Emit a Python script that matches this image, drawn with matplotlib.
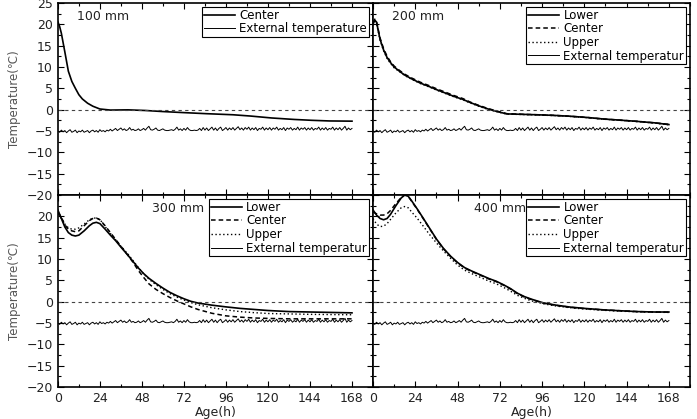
import matplotlib
matplotlib.use('Agg')
import matplotlib.pyplot as plt
from matplotlib.ticker import MultipleLocator
import numpy as np

# external air temperature, one value per hour (0..168 h), same in every panel
ext_temp = [-5.0, -5.3, -4.8, -5.2, -4.9, -5.4, -5.0, -4.7, -5.3, -5.1, -4.8, -5.4, -5.0, -5.2, -4.8,
            -5.3, -5.1, -4.9, -5.4, -5.0, -4.8, -5.2, -4.9, -5.3, -4.7, -5.1, -4.9, -5.2, -4.8, -5.0,
            -4.6, -5.0, -4.7, -4.4, -4.9, -4.6, -4.3, -4.8, -4.5, -4.9, -4.7, -4.2, -4.8, -4.6, -4.9,
            -4.8, -4.5, -4.9, -4.7, -4.4, -4.8, -4.3, -3.9, -4.7, -4.8, -4.6, -4.3, -4.8, -4.9, -4.7,
            -4.5, -4.8, -4.9, -4.9, -4.8, -4.7, -4.9, -4.6, -4.1, -4.8, -4.5, -4.9, -4.4, -4.8, -4.2,
            -4.7, -4.9, -4.9, -4.8, -4.9, -4.8, -4.4, -4.9, -4.2, -4.8, -4.3, -4.9, -4.5, -4.1, -4.8,
            -4.3, -4.9, -4.4, -4.1, -4.9, -4.6, -4.2, -4.8, -4.3, -4.7, -4.2, -4.8, -4.4, -4.0, -4.7,
            -4.3, -4.8, -4.2, -4.6, -4.1, -4.8, -4.3, -4.7, -4.2, -4.9, -4.4, -4.6, -4.1, -4.8, -4.3,
            -4.7, -4.2, -4.8, -4.3, -4.6, -4.1, -4.8, -4.4, -4.7, -4.2, -4.9, -4.3, -4.6, -4.2, -4.8,
            -4.4, -4.7, -4.1, -4.8, -4.3, -4.6, -4.2, -4.8, -4.3, -4.7, -4.2, -4.8, -4.4, -4.6, -4.1,
            -4.8, -4.3, -4.7, -4.2, -4.8, -4.4, -4.6, -4.1, -4.8, -4.3, -4.7, -4.2, -4.8, -4.4, -3.9,
            -4.8, -4.3, -4.7, -4.4]
ext_hours = list(range(len(ext_temp)))

# 100 mm
t100 = [0, 1, 2, 4, 6, 8, 10, 12, 14, 17, 20, 24, 30, 40, 50, 60, 72, 85, 100, 110, 122, 135, 145, 155, 168]
center100 = [20.6, 19.5, 17.9, 13.5, 9.0, 6.6, 5.0, 3.5, 2.5, 1.5, 0.8, 0.15, -0.1, -0.05, -0.2, -0.45,
             -0.7, -0.95, -1.2, -1.5, -1.95, -2.3, -2.5, -2.65, -2.7]

# 200 mm
t200 = [0, 1, 2, 4, 6, 8, 10, 12, 15, 18, 22, 27, 32, 36, 41, 46, 51, 55, 60, 65, 70, 76, 85, 93,
        103, 112, 122, 131, 140, 150, 160, 168]
lower200 = [20.0, 21.0, 20.5, 16.5, 14.0, 12.2, 11.0, 10.0, 9.0, 8.1, 7.2, 6.2, 5.4, 4.7, 3.9, 3.1,
            2.4, 1.7, 0.9, 0.2, -0.4, -1.0, -1.1, -1.2, -1.35, -1.55, -1.85, -2.2, -2.45, -2.75, -3.1, -3.5]
center200 = [20.3, 21.2, 20.6, 16.8, 14.3, 12.5, 11.2, 10.2, 9.2, 8.3, 7.4, 6.4, 5.6, 4.9, 4.1, 3.3,
             2.6, 1.8, 1.0, 0.3, -0.3, -0.95, -1.1, -1.2, -1.35, -1.55, -1.85, -2.2, -2.45, -2.75, -3.1, -3.45]
upper200 = [19.8, 20.7, 20.2, 16.3, 13.8, 12.0, 10.8, 9.8, 8.9, 8.0, 7.1, 6.1, 5.3, 4.6, 3.8, 3.0,
            2.3, 1.6, 0.8, 0.1, -0.45, -1.05, -1.15, -1.25, -1.4, -1.6, -1.9, -2.25, -2.5, -2.8, -3.15, -3.55]

# 300 mm
t300 = [0, 2, 4, 6, 8, 10, 12, 15, 18, 20, 22, 24, 27, 30, 33, 36, 40, 43, 46, 49, 52, 56, 60, 64, 68,
        72, 76, 80, 88, 96, 104, 112, 120, 132, 144, 156, 168]
lower300 = [21.5, 19.5, 17.5, 16.2, 15.6, 15.4, 15.6, 16.6, 17.8, 18.4, 18.6, 18.3, 17.0, 15.6, 14.3,
            12.8, 10.9, 9.4, 7.9, 6.6, 5.5, 4.3, 3.2, 2.2, 1.4, 0.7, 0.1, -0.3, -0.8, -1.2, -1.55,
            -1.8, -2.05, -2.3, -2.4, -2.5, -2.6]
center300 = [21.0, 19.8, 18.0, 17.0, 16.6, 16.4, 16.6, 17.8, 19.0, 19.5, 19.6, 19.2, 17.8, 16.2, 14.6,
             13.0, 10.9, 9.2, 7.3, 5.7, 4.2, 2.9, 1.9, 1.0, 0.2, -0.5, -1.2, -1.8, -2.7, -3.3, -3.6,
             -3.8, -3.9, -4.0, -4.0, -4.0, -4.0]
upper300 = [20.5, 19.5, 18.2, 17.3, 17.0, 17.0, 17.3, 18.2, 19.2, 19.6, 19.6, 19.3, 17.6, 16.0, 14.5,
            13.0, 11.2, 9.6, 8.0, 6.5, 5.3, 4.0, 2.9, 1.9, 1.1, 0.4, -0.2, -0.7, -1.4, -1.9, -2.3,
            -2.55, -2.75, -2.85, -2.95, -3.0, -3.05]

# 400 mm
t400 = [0, 2, 4, 6, 8, 10, 13, 16, 18, 20, 22, 25, 28, 32, 36, 40, 44, 48, 52, 56, 61, 66, 70, 74, 78,
        82, 86, 90, 97, 104, 112, 120, 131, 140, 150, 160, 168]
lower400 = [21.5, 20.3, 19.5, 19.2, 19.5, 20.5, 22.5, 24.3, 25.0, 24.7, 23.6, 21.8, 19.9, 17.3, 14.7,
            12.5, 10.7, 9.2, 8.0, 7.2, 6.3, 5.4, 4.8, 4.0, 3.1, 2.0, 1.2, 0.6, -0.3, -0.8, -1.25,
            -1.55, -1.9, -2.1, -2.3, -2.4, -2.4]
center400 = [21.0, 20.6, 20.3, 20.3, 20.6, 21.4, 23.0, 24.4, 25.0, 24.7, 23.5, 21.7, 19.8, 17.2, 14.6,
             12.4, 10.6, 9.1, 7.9, 7.1, 6.2, 5.3, 4.7, 3.9, 3.0, 1.9, 1.1, 0.5, -0.35, -0.85, -1.3,
             -1.6, -1.9, -2.1, -2.3, -2.4, -2.45]
upper400 = [19.5, 18.2, 17.6, 17.7, 18.3, 19.3, 20.8, 22.0, 22.3, 22.0, 21.0, 19.6, 18.0, 15.8, 13.8,
            11.9, 10.2, 8.6, 7.4, 6.6, 5.7, 4.8, 4.2, 3.4, 2.5, 1.5, 0.8, 0.2, -0.5, -1.0, -1.4,
            -1.7, -2.0, -2.2, -2.35, -2.45, -2.5]

x_ticks = [0, 24, 48, 72, 96, 120, 144, 168]
ext_label = 'External temperatur'

plt.rcParams['font.family'] = ['DejaVu Sans']
plt.rcParams['font.size'] = 9

fig = plt.figure(figsize=(6.97, 4.19), dpi=100)
L, R, B, T = 0.083, 0.99, 0.076, 0.993
midx = 373 / 697.0
midy = 1 - 195 / 419.0
ax1 = fig.add_axes([L, midy, midx - L, T - midy])
ax2 = fig.add_axes([midx, midy, R - midx, T - midy])
ax3 = fig.add_axes([L, B, midx - L, midy - B])
ax4 = fig.add_axes([midx, B, R - midx, midy - B])

txtc = '#222222'


def style(ax, bottom_row, left_col):
    ax.set_xlim(0, 180)
    ax.set_ylim(-20, 25)
    ax.xaxis.set_major_locator(plt.FixedLocator(x_ticks))
    ax.xaxis.set_minor_locator(MultipleLocator(12))
    if left_col and bottom_row:
        ax.yaxis.set_major_locator(plt.FixedLocator(range(-20, 21, 5)))
    else:
        ax.yaxis.set_major_locator(MultipleLocator(5))
    ax.yaxis.set_minor_locator(MultipleLocator(2.5))
    ax.tick_params(which='both', direction='in', top=True, right=True, colors='black',
                   labelcolor=txtc, labelsize=9, width=0.8)
    ax.tick_params(which='major', length=4)
    ax.tick_params(which='minor', length=2.5)
    ax.tick_params(labelbottom=bottom_row, labelleft=left_col)
    for s in ax.spines.values():
        s.set_linewidth(1.2)
    ax.axhline(0, color='#444444', ls=(0, (3, 3)), lw=0.8)
    if bottom_row:
        ax.set_xlabel('Age(h)', color=txtc, fontsize=9, labelpad=1)
    if left_col:
        ax.set_ylabel('Temperature(\u2103)', color='#555555', fontsize=8.5, labelpad=4)


def legend(ax):
    ax.legend(loc='upper right', fontsize=8.5, frameon=True, fancybox=False, edgecolor='black',
              framealpha=1, labelspacing=0.05, handlelength=2.6, handletextpad=0.4,
              borderpad=0.15, borderaxespad=0.35).get_frame().set_linewidth(0.8)


# 100 mm
ax1.plot(t100, center100, color='black', lw=1.2, label='Center')
ax1.plot(ext_hours, ext_temp, color='black', lw=0.7, label='External temperature')
style(ax1, False, True)
legend(ax1)
ax1.text(0.06, 0.93, '100 mm', transform=ax1.transAxes, fontsize=9, color=txtc, va='center')

for ax, t, lo, ce, up, name, tx in [
        (ax2, t200, lower200, center200, upper200, '200 mm', 0.06),
        (ax3, t300, lower300, center300, upper300, '300 mm', 0.30),
        (ax4, t400, lower400, center400, upper400, '400 mm', 0.32)]:
    ax.plot(t, lo, color='black', lw=1.2, label='Lower')
    ax.plot(t, ce, color='black', lw=1.1, ls=(0, (3, 2)), label='Center')
    ax.plot(t, up, color='black', lw=1.0, ls=(0, (1, 1.8)), label='Upper')
    ax.plot(ext_hours, ext_temp, color='black', lw=0.7, label=ext_label)
    legend(ax)
    ax.text(tx, 0.93, name, transform=ax.transAxes, fontsize=9, color=txtc, va='center')

style(ax2, False, False)
style(ax3, True, True)
style(ax4, True, False)

fig.savefig('out.png', dpi=100)
